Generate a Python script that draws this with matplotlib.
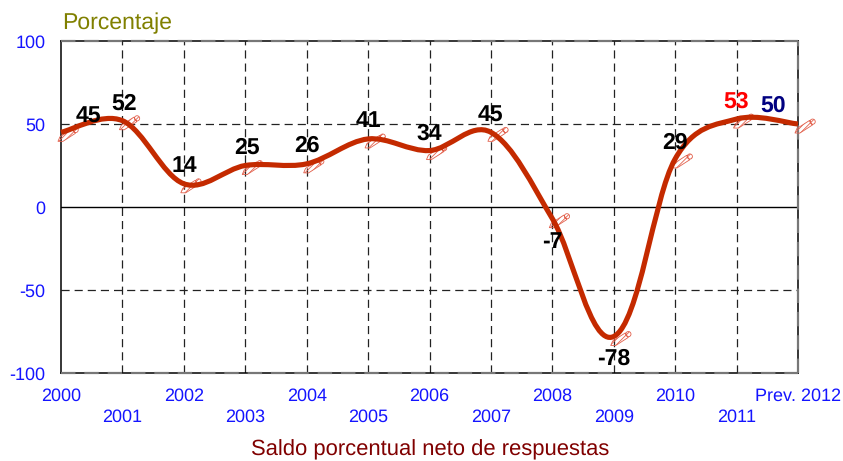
import matplotlib
matplotlib.use("Agg")
import matplotlib.pyplot as plt
import numpy as np
from matplotlib.path import Path
from matplotlib.patches import PathPatch

plt.rcParams['font.family'] = ['Liberation Sans', 'DejaVu Sans']
plt.rcParams['hatch.linewidth'] = 0.6
plt.rcParams['text.hinting'] = 'no_hinting'
plt.rcParams['text.hinting_factor'] = 1
plt.rcParams['axes.unicode_minus'] = False

years = ['2000', '2001', '2002', '2003', '2004', '2005', '2006', '2007',
         '2008', '2009', '2010', '2011', 'Prev. 2012']
saldo = [45, 52, 14, 25, 26, 41, 34, 45, -7, -78, 29, 53, 50]
yticks = [-100, -50, 0, 50, 100]

# label offsets from each point, in pixels
label_dx = [27, 2, 1, 2, 0, 0, 0, 0, 0, 0, 0, 0, -25]
label_dy = [15, 17, 18, 18, 18, 18, 17, 16, -23, -22, 16, 17, 18]
label_colors = ['black'] * 11 + ['#ff0000', '#000080']

W, H = 843, 461
fig = plt.figure(figsize=(W / 100, H / 100), dpi=100)
ax = fig.add_axes([61 / W, (H - 373) / H, (798 - 61) / W, (373 - 41) / H])
ax.set_xlim(0, 12)
ax.set_ylim(-100, 100)

# grid
x = np.arange(len(saldo))
dash = (0, (6.5, 4))
for i in x[1:-1]:
    ax.axvline(i, color='#222222', lw=0.9, ls=dash, zorder=1)
for v in [-50, 50]:
    ax.axhline(v, color='#222222', lw=0.9, ls=dash, zorder=1)
ax.axhline(0, color='black', lw=1, zorder=1)

for s in ax.spines.values():
    s.set_linewidth(1.1)
    s.set_color('black')
    s.set_zorder(2)
# the grey dashes that sit on the frame
ax.axhline(100, color='#777777', lw=1.6, ls=dash, zorder=3, clip_on=False)
ax.axhline(-100, color='#777777', lw=1.6, ls=dash, zorder=3, clip_on=False)
ax.axvline(12, color='#777777', lw=1.6, ls=dash, zorder=3, clip_on=False)

# pencil marker, drawn in pixels around the point
tip = np.array([-3.0, -9.0])
d = np.array([0.84, 0.54])
n = np.array([-0.54, 0.84])
body = [tip + 4 * d + 2.7 * n, tip + 19 * d + 2.7 * n, tip + 19 * d - 2.7 * n, tip + 4 * d - 2.7 * n]
verts = [tip] + body + [tip]
codes = [Path.MOVETO] + [Path.LINETO] * 4 + [Path.CLOSEPOLY]
circ = Path.unit_circle()
circ_v = circ.vertices * 2.6 + tip + 21 * d
pencil = Path(np.vstack([verts, circ_v]), codes + list(circ.codes))
scale = 2 * np.abs(pencil.vertices).max() * 0.72
ax.scatter(x, saldo, marker=pencil, s=scale ** 2, facecolors='none', edgecolors='#e2604c',
           linewidths=0.6, hatch='//////', zorder=4, clip_on=False)

# smoothed line as bezier segments, handles partly scaled by segment length on screen
sx = 737 / 12
sy = 332 / 200
pts = np.column_stack([x * sx, np.array(saldo) * sy]).astype(float)
vs = [pts[0]]
cs = [Path.MOVETO]
mix = 0.15
for i in range(len(pts) - 1):
    prev = pts[max(i - 1, 0)]
    nxt = pts[min(i + 2, len(pts) - 1)]
    seg = np.hypot(*(pts[i + 1] - pts[i]))
    t1 = pts[i + 1] - prev
    t2 = nxt - pts[i]
    c1 = pts[i] + (1 - mix) * t1 / 6 + mix * t1 / np.hypot(*t1) * seg * 0.33
    c2 = pts[i + 1] - (1 - mix) * t2 / 6 - mix * t2 / np.hypot(*t2) * seg * 0.33
    vs += [c1, c2, pts[i + 1]]
    cs += [Path.CURVE4] * 3
vs = np.array(vs) / [sx, sy]
ax.add_patch(PathPatch(Path(vs, cs), fill=False, edgecolor='#c42a00', lw=3.7,
                       capstyle='butt', zorder=5, clip_on=False))

for i, v in enumerate(saldo):
    ax.annotate(str(v), (i, v), xytext=(label_dx[i] * 0.72, label_dy[i] * 0.72),
                textcoords='offset points', ha='center', va='center', fontsize=16.5,
                fontweight='bold', color=label_colors[i], zorder=6)

ax.set_yticks(yticks)
ax.set_yticklabels([str(v) for v in yticks])
ax.set_xticks(x)
ax.set_xticklabels(years)
ax.tick_params(axis='y', length=0, pad=11, labelsize=12.7, labelcolor='#1414ff')
ax.tick_params(axis='x', length=0, labelsize=12.7, labelcolor='#1414ff')
for i, tick in enumerate(ax.xaxis.get_major_ticks()):
    tick.set_pad(10.5 if i % 2 == 0 else 26)

fig.text(62 / W, 1 - 23 / H, 'Porcentaje', color='#808000', fontsize=16.3, va='center')
fig.text(430 / W, 1 - 450 / H, 'Saldo porcentual neto de respuestas', color='#800000',
         fontsize=16.15, va='center', ha='center')

fig.savefig('out.png', dpi=100)
